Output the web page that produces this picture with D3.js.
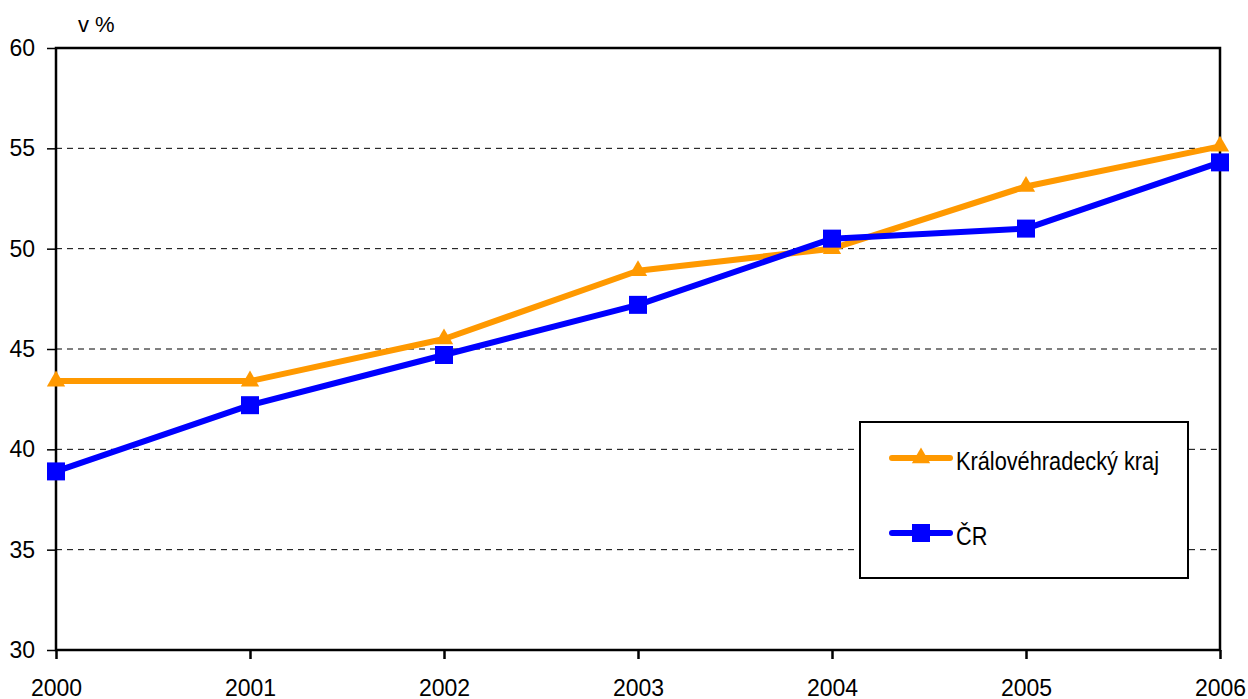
<!DOCTYPE html>
<html lang="cs">
<head>
<meta charset="UTF-8">
<title>Kralovehradecky kraj vs CR</title>
<style>
    body { margin: 0; background: #fff; }
    svg { display: block; }
    text { font-family: "Liberation Sans Narrow", "Arial Narrow", "Liberation Sans", sans-serif; font-size: 23px; fill: #000; }
</style>
</head>
<body>
<svg width="1248" height="699"></svg>
<script src="https://d3js.org/d3.v7.min.js"></script>
<script>
    // data
    const years = [2000, 2001, 2002, 2003, 2004, 2005, 2006];
    const kraj = [43.4, 43.4, 45.5, 48.9, 50.0, 53.1, 55.1];
    const cr = [38.9, 42.2, 44.7, 47.2, 50.5, 51.0, 54.3];
    const yTicks = [30, 35, 40, 45, 50, 55, 60];
    const seriesNames = ["Královéhradecký kraj", "ČR"];
    const colors = ["#ff9900", "#0000ff"];

    const svg = d3.select("svg");
    const plotL = 56, plotR = 1220, plotT = 48, plotB = 650;

    const x = d3.scaleLinear().domain([2000, 2006]).range([plotL, plotR]);
    const y = d3.scaleLinear().domain([30, 60]).range([plotB, plotT]);

    // dashed gridlines
    svg.append("g").selectAll("line").data(yTicks.filter(t => t > 30 && t < 60)).enter().append("line")
        .attr("x1", plotL).attr("x2", plotR)
        .attr("y1", d => y(d)).attr("y2", d => y(d))
        .attr("stroke", "#000").attr("stroke-width", 1).attr("stroke-dasharray", "6,5");

    // frame
    svg.append("rect").attr("x", plotL).attr("y", plotT)
        .attr("width", plotR - plotL).attr("height", plotB - plotT)
        .attr("fill", "none").attr("stroke", "#000").attr("stroke-width", 2.5);

    // y axis
    const yAxis = d3.axisLeft(y).tickValues(yTicks).tickSize(9).tickPadding(12);
    const gy = svg.append("g").attr("transform", `translate(${plotL},0)`).call(yAxis);
    gy.select(".domain").remove();
    gy.selectAll(".tick line").attr("stroke", "#000").attr("stroke-width", 1.5);

    // x axis
    const xAxis = d3.axisBottom(x).tickValues(years).tickFormat(d3.format("d")).tickSize(9).tickPadding(21);
    const gx = svg.append("g").attr("transform", `translate(0,${plotB})`).call(xAxis);
    gx.select(".domain").remove();
    gx.selectAll(".tick line").attr("stroke", "#000").attr("stroke-width", 2.5);
    svg.selectAll("g").attr("font-size", null).attr("font-family", null);

    svg.append("text").attr("x", 78).attr("y", 32).style("font-size", "22px").text("v %");

    const line = d3.line().x((d, i) => x(years[i])).y(d => y(d));
    const tri = d3.symbol().type(d3.symbolTriangle).size(145);
    const sq = d3.symbol().type(d3.symbolSquare).size(324);

    // orange series
    svg.append("path").datum(kraj).attr("d", line)
        .attr("fill", "none").attr("stroke", colors[0]).attr("stroke-width", 6).attr("stroke-linejoin", "round");
    svg.append("g").selectAll("path").data(kraj).enter().append("path")
        .attr("d", tri).attr("fill", colors[0])
        .attr("transform", (d, i) => `translate(${x(years[i])},${y(d)})`);

    // blue series
    svg.append("path").datum(cr).attr("d", line)
        .attr("fill", "none").attr("stroke", colors[1]).attr("stroke-width", 6).attr("stroke-linejoin", "round");
    svg.append("g").selectAll("path").data(cr).enter().append("path")
        .attr("d", sq).attr("fill", colors[1])
        .attr("transform", (d, i) => `translate(${x(years[i])},${y(d)})`);

    // legend
    const lg = svg.append("g").attr("transform", "translate(860,422)");
    lg.append("rect").attr("width", 328).attr("height", 156)
        .attr("fill", "#fff").attr("stroke", "#000").attr("stroke-width", 2);
    seriesNames.forEach((name, i) => {
        const ly = 36 + i * 75;
        lg.append("line").attr("x1", 32).attr("x2", 90).attr("y1", ly).attr("y2", ly)
            .attr("stroke", colors[i]).attr("stroke-width", 6).attr("stroke-linecap", "round");
        lg.append("path").attr("d", i === 0 ? tri : sq).attr("fill", colors[i])
            .attr("transform", `translate(61,${ly})`);
        // narrow look: squeeze the text horizontally
        lg.append("text").attr("transform", `translate(96,${ly + 12}) scale(0.87,1)`)
            .style("font-size", "25px").text(name);
    });
</script>
</body>
</html>
